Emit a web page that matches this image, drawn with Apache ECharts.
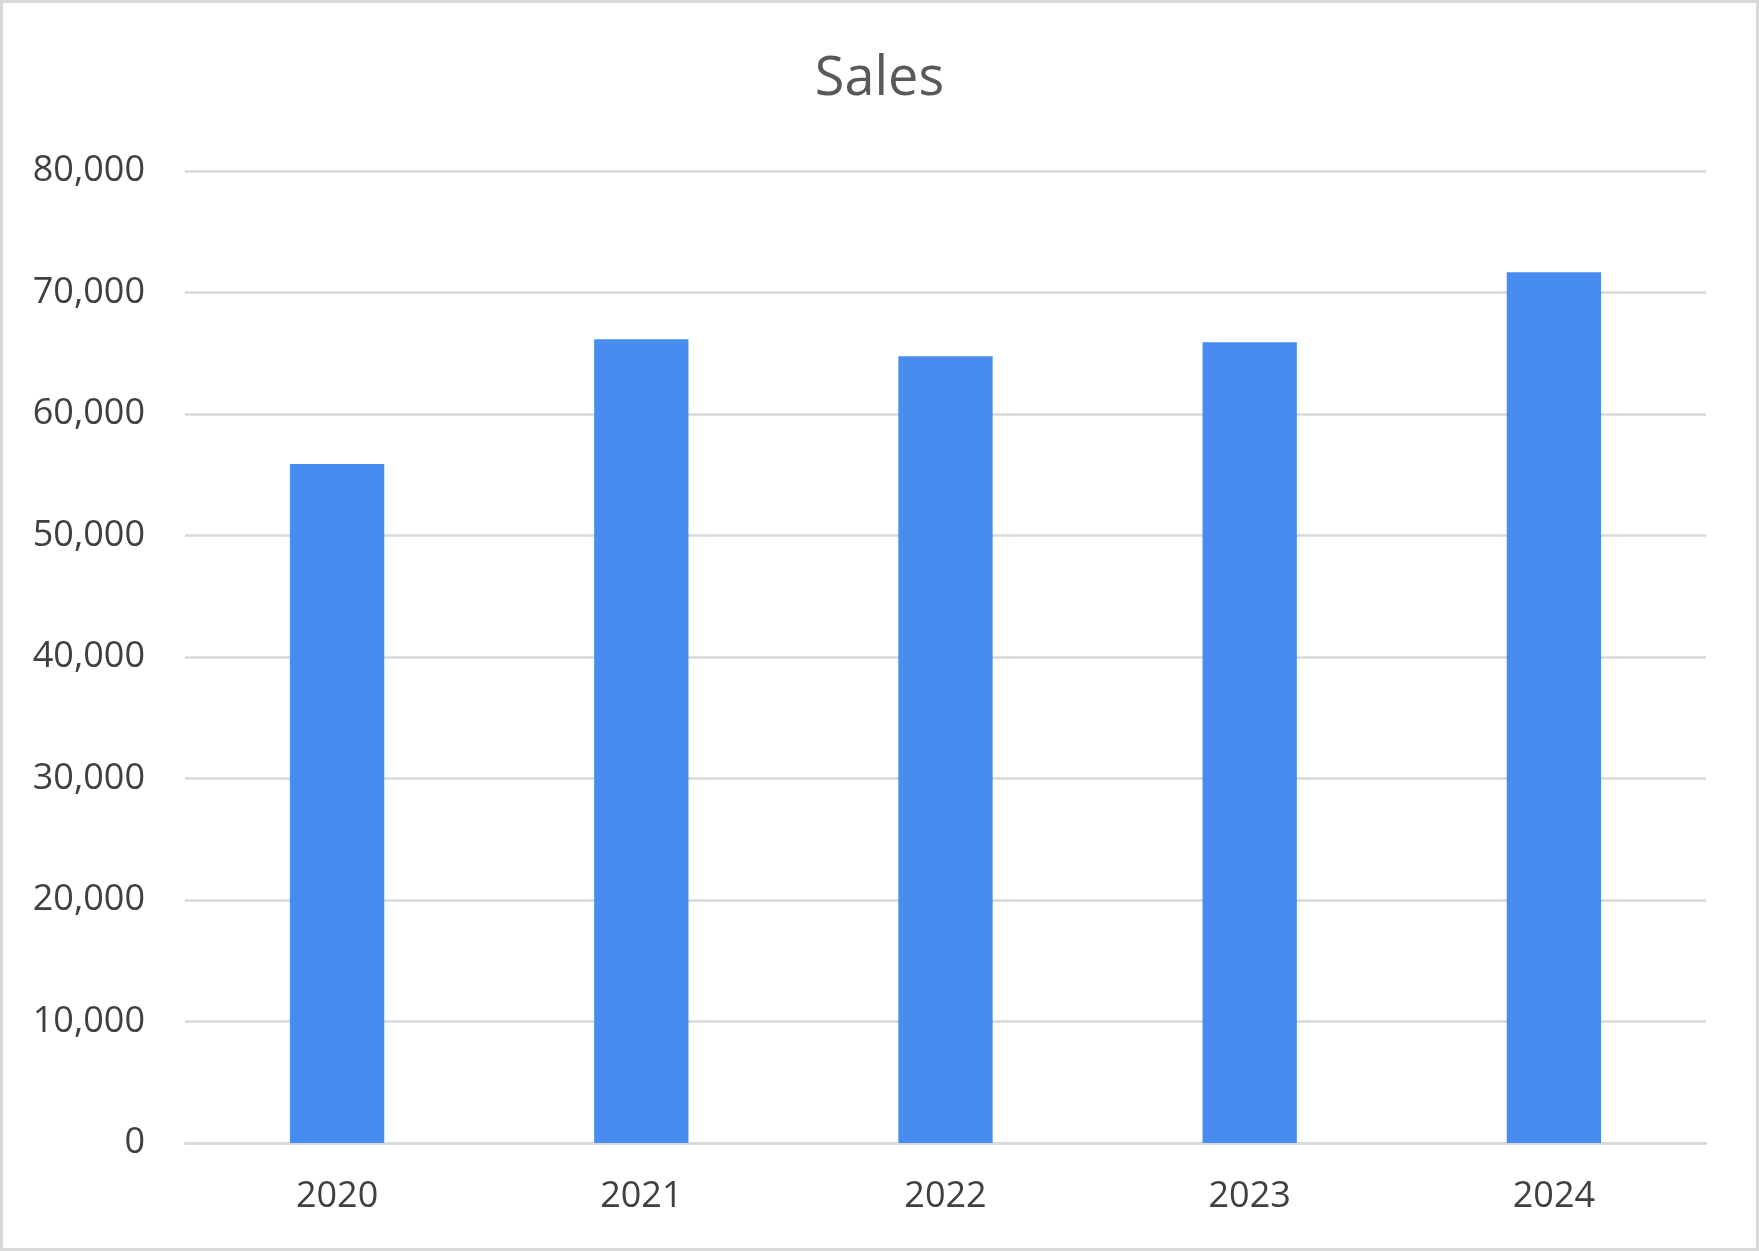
<!DOCTYPE html>
<html>
<head>
<meta charset="utf-8">
<script src="https://cdn.jsdelivr.net/npm/echarts@6/dist/echarts.min.js"></script>
<style>
html,body{margin:0;padding:0;background:#fff;}
#chart{width:1759px;height:1251px;box-sizing:border-box;border:3px solid #d9d9d9;}
</style>
</head>
<body>
<div id="chart"></div>
<script>
const categories = ['2020', '2021', '2022', '2023', '2024'];
const salesValues = [55880, 66150, 64750, 65900, 71660];
const yTicks = [0, 10000, 20000, 30000, 40000, 50000, 60000, 70000, 80000];
const titleText = 'Sales';

const chart = echarts.init(document.getElementById('chart'), null, {renderer: 'canvas'});
const font = '"Open Sans", "Noto Sans", sans-serif';
chart.setOption({
  animation: false,
  backgroundColor: '#ffffff',
  title: {
    text: titleText,
    left: 'center',
    top: 45,
    textStyle: {fontFamily: font, fontSize: 54, fontWeight: 'normal', color: '#595959'}
  },
  grid: {left: 182, right: 50, top: 168, bottom: 105, containLabel: false},
  xAxis: {
    type: 'category',
    data: categories,
    axisLine: {show: true, lineStyle: {color: '#d9d9d9', width: 2.5}},
    axisTick: {show: false},
    axisLabel: {fontFamily: font, fontSize: 36, color: '#404040', margin: 36}
  },
  yAxis: {
    type: 'value',
    min: yTicks[0],
    max: yTicks[yTicks.length - 1],
    interval: yTicks[1] - yTicks[0],
    axisLine: {show: false},
    axisTick: {show: false},
    splitLine: {show: true, lineStyle: {color: '#d9d9d9', width: 2.5}},
    axisLabel: {
      fontFamily: font, fontSize: 36, color: '#404040', margin: 40,
      formatter: v => v.toLocaleString('en-US')
    }
  },
  series: [{
    type: 'bar',
    data: salesValues,
    barWidth: '31%',
    itemStyle: {color: '#488CEF'}
  }]
});
</script>
</body>
</html>
